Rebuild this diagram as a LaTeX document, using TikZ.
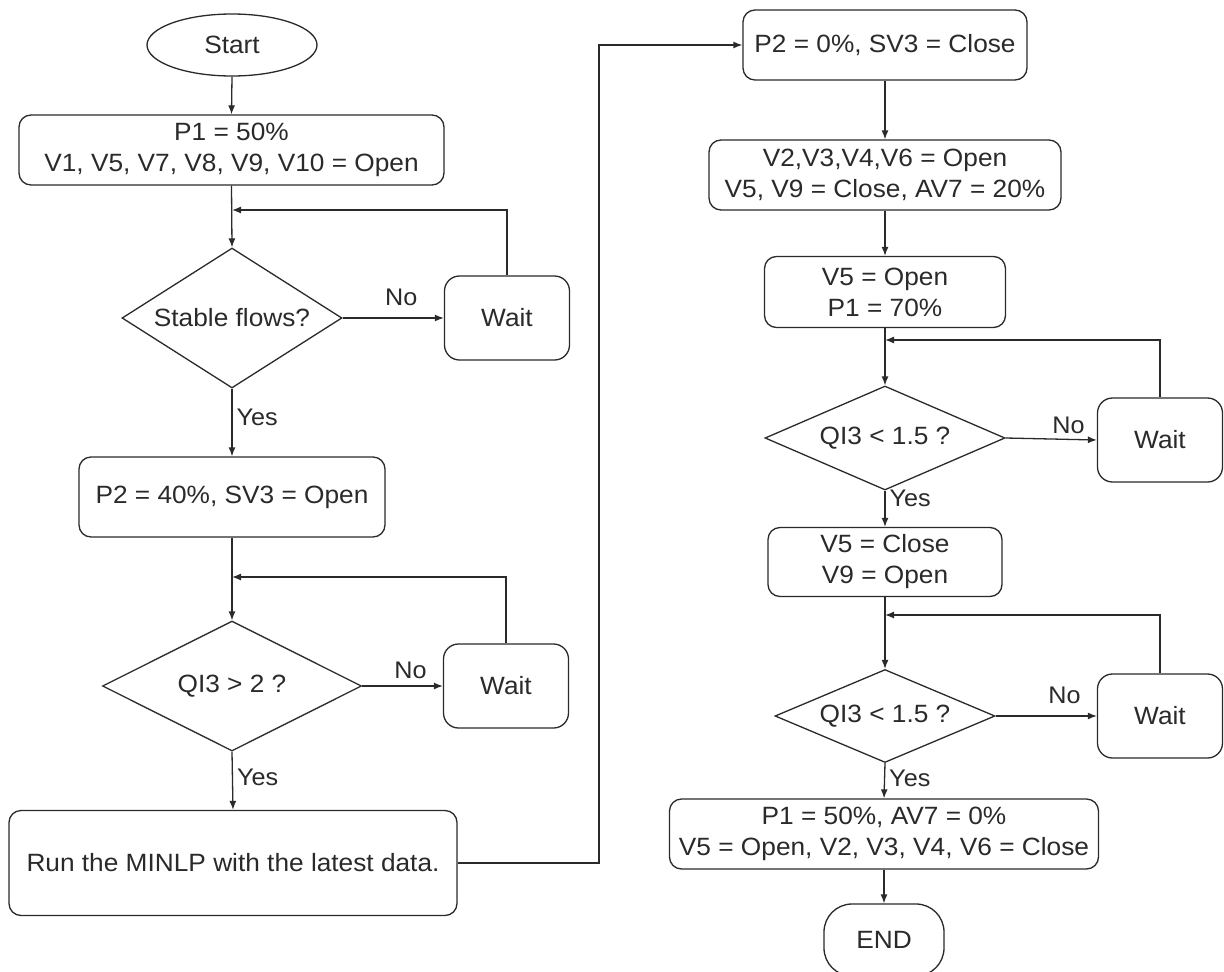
\documentclass[tikz,border=0pt]{standalone}
\usepackage{fontspec}
\setmainfont{Liberation Sans}[FakeStretch=1.05]
\usetikzlibrary{shapes.geometric, arrows.meta}

\definecolor{ink}{HTML}{2A2A2A}

\tikzset{
  every node/.style={font=\fontsize{25}{31}\selectfont, text=ink},
  shapeline/.style={draw=ink, line width=1.3pt},
  box/.style={shapeline, rectangle, rounded corners=12pt, align=center, inner sep=0pt},
  waitbox/.style={shapeline, rectangle, rounded corners=15pt, inner sep=0pt,
                  minimum width=125pt, minimum height=84pt},
  decision/.style={shapeline, diamond, inner sep=0pt},
  terminal/.style={shapeline, inner sep=0pt},
  arr/.style={draw=ink, line width=1.3pt, -{Latex[length=9pt,width=7pt]}},
  lbl/.style={font=\fontsize{24}{28}\selectfont, inner sep=4pt}
}

\begin{document}
\begin{tikzpicture}[x=1pt, y=-1pt]
  \useasboundingbox (0,0) rectangle (1224,972);
  \fill[white] (0,0) rectangle (1224,972);

  % ---------- left column ----------
  \node[terminal, ellipse, minimum width=170pt, minimum height=62pt] (start) at (232,45) {Start};
  \node[box, minimum width=425pt, minimum height=70pt] (b1) at (231.5,150)
       {P1 = 50\%\\V1, V5, V7, V8, V9, V10 = Open};
  \coordinate (j1) at (232,210);
  \node[decision, aspect=1.571, minimum width=220pt, minimum height=140pt] (d1) at (232,318) {Stable flows?};
  \node[waitbox] (w1) at (507,318) {Wait};
  \node[box, minimum width=306pt, minimum height=80pt] (b2) at (232,497) {P2 = 40\%, SV3 = Open};
  \coordinate (j2) at (232,577);
  \node[decision, aspect=1.99, minimum width=259pt, minimum height=130pt] (d2) at (232,686) {QI3 > 2 ?};
  \node[waitbox] (w2) at (506,686) {Wait};
  \node[box, minimum width=448pt, minimum height=105pt] (b3) at (233,863)
       {Run the MINLP with the latest data.};
  \coordinate (c1) at (599,45);

  % ---------- right column ----------
  \node[box, minimum width=284pt, minimum height=70pt] (b4) at (885,45) {P2 = 0\%, SV3 = Close};
  \node[box, minimum width=352pt, minimum height=70pt] (b5) at (885,175)
       {V2,V3,V4,V6 = Open\\V5, V9 = Close, AV7 = 20\%};
  \node[box, minimum width=241pt, minimum height=71pt] (b6) at (885,292)
       {V5 = Open\\P1 = 70\%};
  \coordinate (j3) at (885,340);
  \node[decision, aspect=2.29, minimum width=240pt, minimum height=104pt] (d3) at (885,438) {QI3 < 1.5 ?};
  \node[waitbox] (w3) at (1160,440) {Wait};
  \node[box, minimum width=234pt, minimum height=69pt] (b7) at (885,562)
       {V5 = Close\\V9 = Open};
  \coordinate (j4) at (885,615);
  \node[decision, aspect=2.37, minimum width=220pt, minimum height=93pt] (d4) at (885,716) {QI3 < 1.5 ?};
  \node[waitbox] (w4) at (1160,716) {Wait};
  \node[box, minimum width=429pt, minimum height=70pt] (b8) at (884,834)
       {P1 = 50\%, AV7 = 0\%\\V5 = Open, V2, V3, V4, V6 = Close};
  \node[terminal, rectangle, rounded corners=28pt, minimum width=120pt, minimum height=72pt]
       (stop) at (884,940) {END};

  % ---------- connectors, left column ----------
  \draw[arr] (start.south) -- (b1.north);
  \draw[arr] (b1.south) -- (d1.north);
  \draw[arr] (w1.north) |- (j1);
  \draw[arr] (d1.east) -- node[lbl, above=8pt, pos=0.58] {No} (w1.west);
  \draw[arr] (d1.south) -- node[lbl, right, pos=0.43] {Yes} (b2.north);
  \draw[arr] (b2.south) -- (d2.north);
  \draw[arr] (w2.north) |- (j2);
  \draw[arr] (d2.east) -- node[lbl, above=3pt, pos=0.6] {No} (w2.west);
  \draw[arr] (d2.south) -- node[lbl, right, pos=0.44] {Yes} (b3.north);
  \draw[arr] (b3.east) -| (c1) -- (b4.west);

  % ---------- connectors, right column ----------
  \draw[arr] (b4.south) -- (b5.north);
  \draw[arr] (b5.south) -- (b6.north);
  \draw[arr] (b6.south) -- (d3.north);
  \draw[arr] (w3.north) |- (j3);
  \draw[arr] (d3.east) -- node[lbl, above=1pt, pos=0.69] {No} (w3.west);
  \draw[arr] (d3.south) -- node[lbl, right, pos=0.2] {Yes} (b7.north);
  \draw[arr] (b7.south) -- (d4.north);
  \draw[arr] (w4.north) |- (j4);
  \draw[arr] (d4.east) -- node[lbl, above=8pt, pos=0.68] {No} (w4.west);
  \draw[arr] (d4.south) -- node[lbl, right, pos=0.42] {Yes} (b8.north);
  \draw[arr] (b8.south) -- (stop.north);
\end{tikzpicture}
\end{document}
